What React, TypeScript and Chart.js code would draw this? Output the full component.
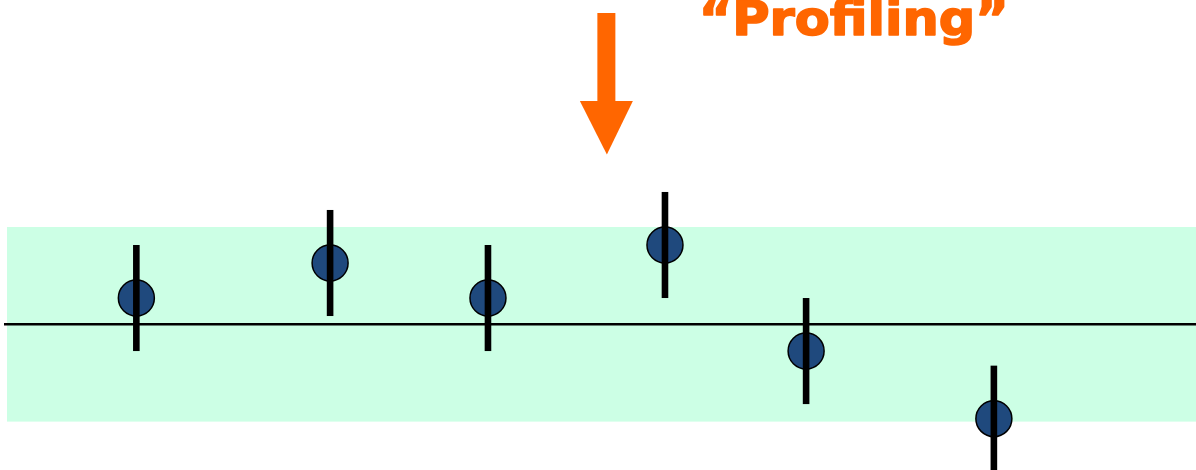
import React, { useEffect, useRef } from "react";
import { Chart, registerables } from "chart.js";

Chart.register(...registerables);

// Data (x in arbitrary run units 0..100, y in sigma units; 0 = reference mean)
const runLabels = ["1", "2", "3", "4", "5", "6"];
const runX = [11.4, 27.6, 40.8, 55.6, 67.4, 83.1];
const runY = [0.54, 1.26, 0.54, 1.63, -0.55, -1.94];
const runErr = [1.09, 1.09, 1.09, 1.09, 1.09, 1.09];
const bandLimits = [-2, 2];
const meanValue = 0;
const annotationText = "\u201CProfiling\u201D";

const W = 1196;
const H = 470;

const overlayPlugin = {
  id: "overlay",
  beforeDatasetsDraw(chart: any) {
    const { ctx } = chart;
    const ys = chart.scales.y;
    ctx.save();
    const top = ys.getPixelForValue(bandLimits[1]);
    const bot = ys.getPixelForValue(bandLimits[0]);
    ctx.fillStyle = "#CCFFE5";
    ctx.fillRect(7, top, W - 7, bot - top);
    const my = ys.getPixelForValue(meanValue);
    ctx.strokeStyle = "#000";
    ctx.lineWidth = 2.5;
    ctx.beginPath();
    ctx.moveTo(4, my);
    ctx.lineTo(W, my);
    ctx.stroke();
    ctx.restore();
  },
  afterDatasetsDraw(chart: any) {
    const { ctx } = chart;
    const xs = chart.scales.x;
    const ys = chart.scales.y;
    ctx.save();
    ctx.fillStyle = "#000";
    runX.forEach((x, i) => {
      const px = xs.getPixelForValue(x);
      const y1 = ys.getPixelForValue(runY[i] + runErr[i]);
      const y2 = ys.getPixelForValue(runY[i] - runErr[i]);
      ctx.fillRect(px - 3.3, y1, 6.6, y2 - y1);
    });
    // arrow
    const ax = xs.getPixelForValue(50.7);
    ctx.fillStyle = "#FF6600";
    ctx.fillRect(ax - 9, 13, 18, 90);
    ctx.beginPath();
    ctx.moveTo(ax - 26.5, 101);
    ctx.lineTo(ax + 26.5, 101);
    ctx.lineTo(ax + 0.5, 154.5);
    ctx.closePath();
    ctx.fill();
    // text
    ctx.font = "bold 48px 'DejaVu Sans'";
    ctx.textAlign = "left";
    ctx.textBaseline = "alphabetic";
    const m = ctx.measureText(annotationText);
    const inkW = m.actualBoundingBoxLeft + m.actualBoundingBoxRight;
    const target = 301;
    const s = target / inkW;
    ctx.translate(703, 35);
    ctx.scale(s, 1);
    ctx.strokeStyle = "#FF6600";
    ctx.lineWidth = 1.6;
    ctx.lineJoin = "round";
    ctx.fillText(annotationText, m.actualBoundingBoxLeft, 0);
    ctx.strokeText(annotationText, m.actualBoundingBoxLeft, 0);
    ctx.restore();
  },
};

export default function App() {
  const ref = useRef<HTMLCanvasElement | null>(null);
  useEffect(() => {
    if (!ref.current) return;
    const chart = new Chart(ref.current, {
      type: "scatter",
      data: {
        labels: runLabels,
        datasets: [
          {
            label: "Runs",
            data: runX.map((x, i) => ({ x, y: runY[i] })),
            pointRadius: 18,
            pointHoverRadius: 18,
            pointBackgroundColor: "#1F497D",
            pointBorderColor: "#000",
            pointBorderWidth: 1.5,
            showLine: false,
          },
        ],
      },
      options: {
        animation: false,
        responsive: false,
        maintainAspectRatio: false,
        layout: { padding: 0, autoPadding: false },
        plugins: { legend: { display: false }, tooltip: { enabled: false } },
        scales: {
          x: { type: "linear", min: 0, max: 100, display: false },
          y: { type: "linear", min: -2.995, max: 6.666, display: false },
        },
      },
      plugins: [overlayPlugin],
    });
    return () => chart.destroy();
  }, []);
  return (
    <div style={{ position: "fixed", left: 0, top: 0, width: W, height: H, background: "#fff" }}>
      <canvas ref={ref} width={W} height={H} style={{ width: W, height: H, display: "block" }} />
    </div>
  );
}
